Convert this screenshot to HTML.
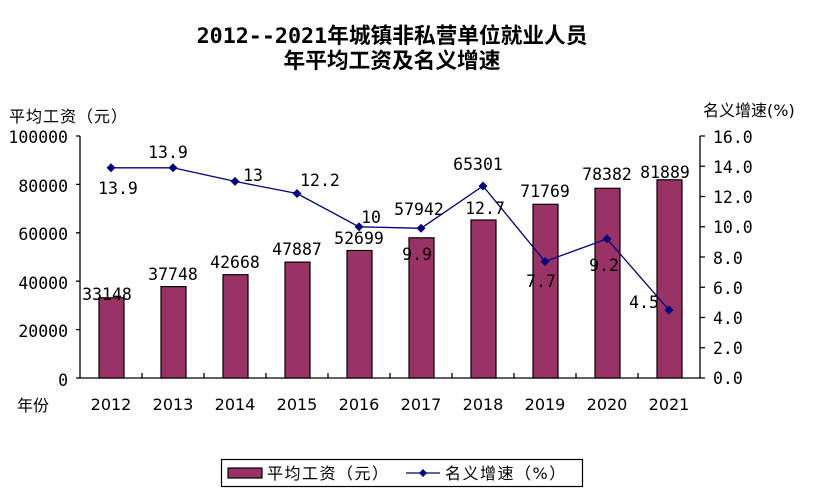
<!DOCTYPE html>
<html><head><meta charset="utf-8"><style>
body{margin:0;background:#fff;}
svg text{font-family:"DejaVu Sans Mono","Liberation Mono","Noto Sans CJK SC",monospace;fill:#000;}
.cjk{font-family:"DejaVu Sans","Noto Sans CJK SC",sans-serif !important;}
</style></head><body>
<svg width="815" height="498" viewBox="0 0 815 498" xmlns="http://www.w3.org/2000/svg">
<text x="392" y="43" text-anchor="middle" font-size="21.7" font-weight="bold" style="font-family:'DejaVu Sans Mono','Noto Sans CJK SC',monospace">2012--2021年城镇非私营单位就业人员</text>
<text x="392" y="68" text-anchor="middle" font-size="21.7" font-weight="bold" style="font-family:'DejaVu Sans Mono','Noto Sans CJK SC',monospace">年平均工资及名义增速</text>
<text x="9" y="122" font-size="16" class="cjk" letter-spacing="1">平均工资（元）</text>
<text x="703" y="116" font-size="16" class="cjk">名义增速(%)</text>
<g font-size="16.5" text-anchor="end">
<text x="68" y="143">100000</text><text x="68" y="192">80000</text><text x="68" y="240">60000</text><text x="68" y="289">40000</text><text x="68" y="337">20000</text><text x="68" y="386">0</text>
</g>
<g font-size="16.5">
<text x="713" y="143">16.0</text><text x="713" y="173">14.0</text><text x="713" y="203">12.0</text><text x="713" y="233">10.0</text><text x="713" y="264">8.0</text><text x="713" y="294">6.0</text><text x="713" y="324">4.0</text><text x="713" y="354">2.0</text><text x="713" y="384">0.0</text>
</g>
<g stroke="#000" stroke-width="1.3" fill="none">
<path d="M80,136V378H700V136"/>
<path d="M76,136H80M76,184.4H80M76,232.8H80M76,281.2H80M76,329.6H80M76,378H80"/>
<path d="M700,136H705M700,166.25H705M700,196.5H705M700,226.75H705M700,257H705M700,287.25H705M700,317.5H705M700,347.75H705M700,378H705"/>
<path d="M142,378v-5M204,378v-5M266,378v-5M328,378v-5M390,378v-5M452,378v-5M514,378v-5M576,378v-5M638,378v-5"/>
</g>
<g fill="#993366" stroke="#000" stroke-width="1.2">
<rect x="99" y="297.8" width="25" height="80.2"/>
<rect x="161" y="286.6" width="25" height="91.4"/>
<rect x="223" y="274.7" width="25" height="103.3"/>
<rect x="285" y="262.1" width="25" height="115.9"/>
<rect x="347" y="250.5" width="25" height="127.5"/>
<rect x="409" y="237.8" width="25" height="140.2"/>
<rect x="471" y="220" width="25" height="158"/>
<rect x="533" y="204.3" width="25" height="173.7"/>
<rect x="595" y="188.3" width="25" height="189.7"/>
<rect x="657" y="179.8" width="25" height="198.2"/>
</g>
<g font-size="16.5" text-anchor="middle">
<text x="107" y="300">33148</text><text x="173" y="280">37748</text><text x="235" y="268">42668</text><text x="297" y="255">47887</text><text x="359" y="244">52699</text><text x="419" y="215">57942</text><text x="478" y="170">65301</text><text x="545" y="197">71769</text><text x="607" y="180">78382</text><text x="665" y="178">81889</text>
</g>
<polyline fill="none" stroke="#000080" stroke-width="1.3" points="111,167.8 173,167.8 235,181.4 297,193.5 359,226.8 421,228.3 483,186 545,261.5 607,238.9 669,310"/>
<g fill="#000080">
<path d="M111,163.3l4.5,4.5l-4.5,4.5l-4.5,-4.5z M173,163.3l4.5,4.5l-4.5,4.5l-4.5,-4.5z M235,176.9l4.5,4.5l-4.5,4.5l-4.5,-4.5z M297,189l4.5,4.5l-4.5,4.5l-4.5,-4.5z M359,222.3l4.5,4.5l-4.5,4.5l-4.5,-4.5z M421,223.8l4.5,4.5l-4.5,4.5l-4.5,-4.5z M483,181.5l4.5,4.5l-4.5,4.5l-4.5,-4.5z M545,257l4.5,4.5l-4.5,4.5l-4.5,-4.5z M607,234.4l4.5,4.5l-4.5,4.5l-4.5,-4.5z M669,305.5l4.5,4.5l-4.5,4.5l-4.5,-4.5z"/>
</g>
<g font-size="16.5" text-anchor="middle">
<text x="118" y="194">13.9</text><text x="168" y="158">13.9</text><text x="253" y="181">13</text><text x="320" y="186">12.2</text><text x="371" y="223">10</text><text x="417" y="260">9.9</text><text x="485" y="214">12.7</text><text x="541" y="287">7.7</text><text x="604" y="271">9.2</text><text x="644" y="308">4.5</text>
</g>
<g font-size="16" text-anchor="middle">
<text x="111" y="410" class="cjk">2012</text><text x="173" y="410" class="cjk">2013</text><text x="235" y="410" class="cjk">2014</text><text x="297" y="410" class="cjk">2015</text><text x="359" y="410" class="cjk">2016</text><text x="421" y="410" class="cjk">2017</text><text x="483" y="410" class="cjk">2018</text><text x="545" y="410" class="cjk">2019</text><text x="607" y="410" class="cjk">2020</text><text x="669" y="410" class="cjk">2021</text>
</g>
<text x="17" y="411" font-size="16" class="cjk">年份</text>
<rect x="221.5" y="459.5" width="361" height="27" fill="#fff" stroke="#000" stroke-width="1.2"/>
<rect x="228" y="468" width="34" height="10" fill="#993366" stroke="#000" stroke-width="1.2"/>
<text x="267" y="479" font-size="16" class="cjk" letter-spacing="1.5">平均工资（元）</text>
<line x1="406" y1="473" x2="440" y2="473" stroke="#000080" stroke-width="1.3"/>
<path d="M423,469l4,4l-4,4l-4,-4z" fill="#000080"/>
<text x="445" y="479" font-size="16" class="cjk" letter-spacing="1.5">名义增速（%）</text>
</svg>
</body></html>
